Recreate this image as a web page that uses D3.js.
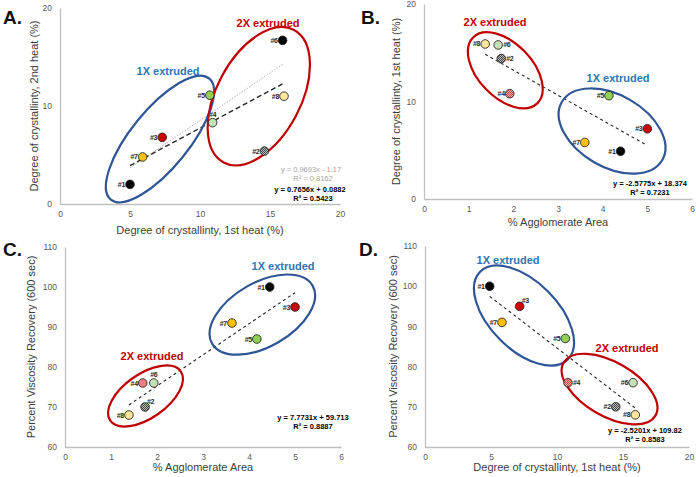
<!DOCTYPE html>
<html>
<head>
<meta charset="utf-8">
<script src="https://cdn.jsdelivr.net/npm/d3@7"></script>
<style>
  body { margin: 0; background: #fff; }
  svg { font-family: "Liberation Sans", Arial, sans-serif; }
</style>
</head>
<body>
<svg id="chart" width="696" height="477"></svg>
<script>
// sample ids, order #1..#8
var samples = ["#1", "#2", "#3", "#4", "#5", "#6", "#7", "#8"];

// A: crystallinity 1st heat vs 2nd heat
var aCryst1 = [5.0, 14.6, 7.3, 10.9, 10.7, 15.9, 5.9, 16.0];
var aCryst2 = [2.0, 5.4, 6.8, 8.3, 11.1, 16.7, 4.8, 11.0];
// B: agglomerate area vs crystallinity 1st heat
var bAgglom = [4.4, 1.73, 5.0, 1.92, 4.14, 1.66, 3.6, 1.37];
var bCryst1 = [4.9, 14.4, 7.2, 10.8, 10.6, 15.8, 5.8, 15.9];
// C: agglomerate area vs viscosity recovery
var cAgglom = [4.45, 1.74, 5.0, 1.69, 4.17, 1.93, 3.63, 1.39];
var cRecov = [100, 70, 95, 76, 87, 76, 91, 68];
// D: crystallinity 1st heat vs viscosity recovery
var dCryst1 = [4.9, 14.45, 7.17, 10.83, 10.63, 15.76, 5.83, 15.93];
var dRecov = [100, 70, 95, 76, 87, 76, 91, 68];

// trendlines [slope, intercept, x0, x1]
var aTrendDotted = [0.9693, -1.17, 5.0, 16.0];
var aTrendDashed = [0.7656, 0.0882, 5.0, 16.0];
var bTrend = [-2.5775, 18.374, 1.37, 5.0];
var cTrend = [7.7731, 59.713, 1.39, 5.0];
var dTrend = [-2.5201, 109.82, 4.9, 15.93];

var ticks010 = [0, 5, 10, 15, 20];
var ticks06 = [0, 1, 2, 3, 4, 5, 6];
var ticks020 = [0, 10, 20];
var ticks60 = [60, 70, 80, 90, 100, 110];

var svg = d3.select("#chart");
var defs = svg.append("defs");

function hatch(id, bg, fg) {
  var p = defs.append("pattern").attr("id", id).attr("patternUnits", "userSpaceOnUse")
    .attr("width", 2).attr("height", 2);
  p.append("rect").attr("width", 2).attr("height", 2).attr("fill", bg);
  p.append("rect").attr("width", 1).attr("height", 1).attr("fill", fg);
  p.append("rect").attr("x", 1).attr("y", 1).attr("width", 1).attr("height", 1).attr("fill", fg);
}
hatch("hatchGray", "#bfbfbf", "#404040");
hatch("hatchPink", "#f4b0b0", "#d04040");

var baseFill = {
  "#1": "#000000", "#2": "url(#hatchGray)", "#3": "#d00000", "#4": "url(#hatchPink)",
  "#5": "#92d050", "#6": "#c5e0b4", "#7": "#ffc000", "#8": "#ffe699"
};

var BLUE = "#2f5597", RED = "#c00000";

function drawPanel(cfg) {
  var x = d3.scaleLinear().domain(cfg.xDomain).range([cfg.left, cfg.right]);
  var y = d3.scaleLinear().domain(cfg.yDomain).range([cfg.bottom, cfg.top]);
  var g = svg.append("g");

  // axes
  g.append("g").attr("transform", "translate(0," + cfg.bottom + ")")
    .call(d3.axisBottom(x).tickValues(cfg.xTicks).tickSize(0).tickPadding(7).tickFormat(d3.format("d")))
    .call(function(a){ a.select(".domain").attr("stroke", "#bfbfbf").attr("stroke-width", 1.3); });
  g.append("g").attr("transform", "translate(" + cfg.left + ",0)")
    .call(d3.axisLeft(y).tickValues(cfg.yTicks).tickSize(0).tickPadding(8).tickFormat(d3.format("d")))
    .call(function(a){ a.select(".domain").attr("stroke", "#bfbfbf").attr("stroke-width", 1.3); });
  g.selectAll(".tick text").attr("fill", "#595959").style("font-size", "8.5px");

  // titles
  g.append("text").attr("x", (cfg.left + cfg.right) / 2).attr("y", cfg.bottom + cfg.xTitleDy)
    .attr("text-anchor", "middle").attr("fill", "#404040").style("font-size", "11px").text(cfg.xTitle);
  g.append("text").attr("transform", "translate(" + cfg.yTitleX + "," + ((cfg.top + cfg.bottom) / 2) + ") rotate(-90)")
    .attr("text-anchor", "middle").attr("fill", "#404040").style("font-size", "11px").text(cfg.yTitle);
  g.append("text").attr("x", cfg.letter[1]).attr("y", cfg.letter[2])
    .style("font-size", "19px").style("font-weight", "bold").attr("fill", "#111").text(cfg.letter[0]);

  // trendlines
  cfg.trends.forEach(function(t) {
    var tr = t.line;
    g.append("line")
      .attr("x1", x(tr[2])).attr("y1", y(tr[0] * tr[2] + tr[1]))
      .attr("x2", x(tr[3])).attr("y2", y(tr[0] * tr[3] + tr[1]))
      .attr("stroke", t.color).attr("stroke-width", t.width).attr("stroke-dasharray", t.dash);
  });

  // ellipses
  cfg.ellipses.forEach(function(e) {
    g.append("ellipse")
      .attr("transform", "translate(" + x(e.cx) + "," + y(e.cy) + ") rotate(" + e.angle + ")")
      .attr("rx", e.rx).attr("ry", e.ry)
      .attr("fill", "none").attr("stroke", e.color).attr("stroke-width", 2.2);
  });

  // points
  var pts = samples.map(function(s, i) { return { id: s, x: cfg.xs[i], y: cfg.ys[i] }; });
  g.selectAll("circle.pt").data(pts).enter().append("circle")
    .attr("class", "pt")
    .attr("cx", function(d) { return x(d.x); })
    .attr("cy", function(d) { return y(d.y); })
    .attr("r", 4.3)
    .attr("fill", function(d) { return (cfg.fills && cfg.fills[d.id]) || baseFill[d.id]; })
    .attr("stroke", "#262626").attr("stroke-width", 0.9);

  g.selectAll("text.lbl").data(pts).enter().append("text")
    .attr("class", "lbl")
    .each(function(d) {
      var pos = (cfg.labelPos && cfg.labelPos[d.id]) || "l";
      var px = x(d.x), py = y(d.y), t = d3.select(this);
      if (pos == "l") t.attr("x", px - 5).attr("y", py + 2.5).attr("text-anchor", "end");
      else if (pos == "r") t.attr("x", px + 5).attr("y", py + 2.5).attr("text-anchor", "start");
      else if (pos == "t") t.attr("x", px).attr("y", py - 6).attr("text-anchor", "middle");
      else if (pos == "tr") t.attr("x", px + 2).attr("y", py - 3).attr("text-anchor", "start");
    })
    .style("font-size", "7px").style("font-weight", "bold").style("letter-spacing", "-0.3px")
    .attr("fill", "#262626").text(function(d) { return d.id; });

  // group labels
  cfg.groupLabels.forEach(function(l) {
    g.append("text").attr("x", l.x).attr("y", l.y).attr("text-anchor", "middle")
      .style("font-size", "11px").style("font-weight", "bold").attr("fill", l.color).text(l.text);
  });

  // equations
  cfg.equations.forEach(function(q) {
    g.append("text").attr("x", q.x).attr("y", q.y).attr("text-anchor", "middle")
      .style("font-size", "7.5px").style("font-weight", q.bold ? "bold" : "normal")
      .attr("fill", q.color).text(q.text);
  });
}

// Panel A
drawPanel({
  left: 60, right: 340, top: 8, bottom: 204,
  xDomain: [0, 20], yDomain: [0, 20], xTicks: ticks010, yTicks: ticks020,
  xs: aCryst1, ys: aCryst2,
  xTitle: "Degree of crystallinty, 1st heat (%)", xTitleDy: 30,
  yTitle: "Degree of crystallinty, 2nd heat (%)", yTitleX: 38,
  letter: ["A.", 3, 24],
  fills: { "#4": "#c5e0b4", "#6": "#000000" },
  labelPos: { "#4": "t" },
  trends: [
    { line: aTrendDotted, color: "#a6a6a6", width: 0.9, dash: "1.5,1.5" },
    { line: aTrendDashed, color: "#262626", width: 1.4, dash: "5,3" }
  ],
  ellipses: [
    { cx: 7.14, cy: 6.63, rx: 78, ry: 29, angle: -51, color: BLUE },
    { cx: 14.2, cy: 11.0, rx: 75, ry: 42, angle: -62, color: RED }
  ],
  groupLabels: [
    { text: "1X extruded", x: 168, y: 75, color: "#2e75b6" },
    { text: "2X extruded", x: 268, y: 27, color: RED }
  ],
  equations: [
    { text: "y = 0.9693x - 1.17", x: 311, y: 172, color: "#a6a6a6" },
    { text: "R\u00b2 = 0.8162", x: 313, y: 181, color: "#a6a6a6" },
    { text: "y = 0.7656x + 0.0882", x: 310, y: 192, color: "#000", bold: true },
    { text: "R\u00b2 = 0.5423", x: 313, y: 201, color: "#000", bold: true }
  ]
});

// Panel B
drawPanel({
  left: 424, right: 692, top: 4, bottom: 199,
  xDomain: [0, 6], yDomain: [0, 20], xTicks: ticks06, yTicks: ticks020,
  xs: bAgglom, ys: bCryst1,
  xTitle: "% Agglomerate Area", xTitleDy: 27,
  yTitle: "Degree of crystallinty, 1st heat (%)", yTitleX: 400,
  letter: ["B.", 361, 24],
  labelPos: { "#6": "r", "#2": "r" },
  trends: [{ line: bTrend, color: "#262626", width: 1.1, dash: "3,3" }],
  ellipses: [
    { cx: 1.82, cy: 13.2, rx: 46, ry: 27, angle: 46, color: RED },
    { cx: 4.21, cy: 6.97, rx: 58, ry: 36, angle: 30, color: BLUE }
  ],
  groupLabels: [
    { text: "2X extruded", x: 495, y: 26, color: RED },
    { text: "1X extruded", x: 618, y: 82, color: "#2e75b6" }
  ],
  equations: [
    { text: "y = -2.5775x + 18.374", x: 650, y: 186, color: "#000", bold: true },
    { text: "R\u00b2 = 0.7231", x: 650, y: 195, color: "#000", bold: true }
  ]
});

// Panel C
drawPanel({
  left: 65, right: 341, top: 247, bottom: 447,
  xDomain: [0, 6], yDomain: [60, 110], xTicks: ticks06, yTicks: ticks60,
  xs: cAgglom, ys: cRecov,
  xTitle: "% Agglomerate Area", xTitleDy: 24,
  yTitle: "Percent Viscosity Recovery (600 sec)", yTitleX: 35,
  letter: ["C.", 3, 256],
  fills: { "#4": "#f08080" },
  labelPos: { "#6": "t", "#2": "tr" },
  trends: [{ line: cTrend, color: "#262626", width: 1.1, dash: "3,3" }],
  ellipses: [
    { cx: 1.75, cy: 72.75, rx: 43, ry: 22, angle: -35, color: RED },
    { cx: 4.29, cy: 93.1, rx: 58, ry: 32, angle: -30, color: BLUE }
  ],
  groupLabels: [
    { text: "1X extruded", x: 283, y: 270, color: "#2e75b6" },
    { text: "2X extruded", x: 152, y: 360, color: RED }
  ],
  equations: [
    { text: "y = 7.7731x + 59.713", x: 313, y: 420, color: "#000", bold: true },
    { text: "R\u00b2 = 0.8887", x: 313, y: 429, color: "#000", bold: true }
  ]
});

// Panel D
drawPanel({
  left: 425, right: 689, top: 246, bottom: 447,
  xDomain: [0, 20], yDomain: [60, 110], xTicks: ticks010, yTicks: ticks60,
  xs: dCryst1, ys: dRecov,
  xTitle: "Degree of crystallinty, 1st heat (%)", xTitleDy: 24,
  yTitle: "Percent Viscosity Recovery (600 sec)", yTitleX: 397,
  letter: ["D.", 359, 256],
  labelPos: { "#3": "tr", "#4": "r" },
  trends: [{ line: dTrend, color: "#262626", width: 1.1, dash: "3,3" }],
  ellipses: [
    { cx: 7.5, cy: 92.7, rx: 62, ry: 34, angle: 45, color: BLUE },
    { cx: 13.98, cy: 74.4, rx: 53, ry: 27, angle: 30, color: RED }
  ],
  groupLabels: [
    { text: "1X extruded", x: 508, y: 264, color: "#2e75b6" },
    { text: "2X extruded", x: 627, y: 352, color: RED }
  ],
  equations: [
    { text: "y = -2.5201x + 109.82", x: 645, y: 433, color: "#000", bold: true },
    { text: "R\u00b2 = 0.8583", x: 645, y: 442, color: "#000", bold: true }
  ]
});
</script>
</body>
</html>
